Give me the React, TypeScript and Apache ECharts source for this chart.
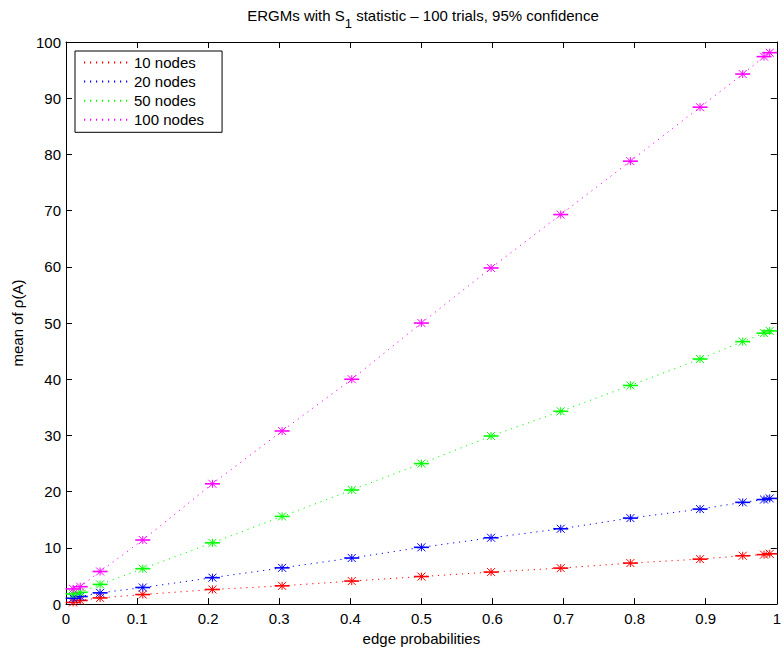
import { useEffect, useRef } from 'react';
import * as echarts from 'echarts';

const edgeProbabilities = [0.01, 0.02, 0.048, 0.108, 0.206, 0.304, 0.402, 0.5, 0.598, 0.696, 0.794, 0.892, 0.952, 0.982, 0.99];
const nodes10 = [0.3, 0.65, 1.1, 1.7, 2.6, 3.25, 4.1, 4.9, 5.7, 6.4, 7.3, 8.0, 8.6, 8.8, 8.95];
const nodes20 = [1.05, 1.35, 2.0, 2.95, 4.7, 6.45, 8.2, 10.1, 11.8, 13.4, 15.3, 16.9, 18.1, 18.6, 18.8];
const nodes50 = [1.8, 2.1, 3.5, 6.3, 10.9, 15.6, 20.3, 25.0, 29.9, 34.3, 38.9, 43.6, 46.7, 48.2, 48.6];
const nodes100 = [2.7, 3.1, 5.8, 11.4, 21.4, 30.8, 40.0, 50.0, 59.8, 69.3, 78.8, 88.4, 94.3, 97.4, 98.1];
const seriesNames = ['10 nodes', '20 nodes', '50 nodes', '100 nodes'];
const seriesValues = [nodes10, nodes20, nodes50, nodes100];
const seriesColors = ['#ff0000', '#0000ff', '#00ff00', '#ff00ff'];

const FONT = '"Liberation Sans", Arial, Helvetica, sans-serif';

export default function App() {
  const ref = useRef<HTMLDivElement>(null);
  useEffect(() => {
    if (!ref.current) return;
    const chart = echarts.init(ref.current, undefined, { renderer: 'svg' });

    const lineSeries = seriesNames.map((name, i) => ({
      name,
      type: 'line',
      data: edgeProbabilities.map((x, j) => [x, seriesValues[i][j]]),
      symbol: 'none',
      lineStyle: { color: seriesColors[i], width: 1, type: [1.2, 4.8] },
      itemStyle: { color: seriesColors[i] },
      z: 2,
    }));

    const markerSeries = seriesNames.map((name, i) => ({
      name: name + ' markers',
      type: 'custom',
      data: edgeProbabilities.map((x, j) => [x, seriesValues[i][j]]),
      z: 3,
      renderItem: (_params: any, api: any) => {
        const p = api.coord([api.value(0), api.value(1)]);
        const c = seriesColors[i];
        return {
          type: 'group',
          children: [
            { type: 'line', shape: { x1: p[0] - 7.5, y1: p[1], x2: p[0] + 7.5, y2: p[1] }, style: { stroke: c, lineWidth: 1.6 } },
            { type: 'line', shape: { x1: p[0] - 4, y1: p[1] - 4, x2: p[0] + 4, y2: p[1] + 4 }, style: { stroke: c, lineWidth: 1 } },
            { type: 'line', shape: { x1: p[0] - 4, y1: p[1] + 4, x2: p[0] + 4, y2: p[1] - 4 }, style: { stroke: c, lineWidth: 1 } },
            { type: 'line', shape: { x1: p[0], y1: p[1] - 4, x2: p[0], y2: p[1] + 4 }, style: { stroke: c, lineWidth: 1 } },
          ],
        };
      },
    }));

    const axisLine = { show: true, onZero: false, lineStyle: { color: '#000', width: 1 } };
    const tickIn = { show: true, inside: true, length: 6, lineStyle: { color: '#000' } };

    chart.setOption({
      animation: false,
      backgroundColor: '#fff',
      textStyle: { fontFamily: FONT },
      grid: { left: 66, right: 3, top: 42, bottom: 46, show: false },
      graphic: [
        {
          type: 'text',
          x: 423,
          y: 8,
          style: {
            text: '{a|ERGMs with S}{s|1}{a| statistic – 100 trials, 95% confidence}',
            align: 'center',
            verticalAlign: 'top',
            fill: '#000',
            rich: {
              a: { fontSize: 15, fontFamily: FONT, verticalAlign: 'top', fill: '#000' },
              s: { fontSize: 13, fontFamily: FONT, lineHeight: 22, verticalAlign: 'bottom', fill: '#000' },
            },
          },
        },
      ],
      legend: {
        data: seriesNames,
        orient: 'vertical',
        left: 75,
        top: 51,
        itemWidth: 45,
        itemHeight: 14,
        itemGap: 4.1,
        padding: [4, 18, 5, 8],
        borderColor: '#000',
        borderWidth: 1,
        backgroundColor: '#fff',
        itemStyle: { opacity: 0 },
        textStyle: { fontSize: 15, color: '#000', fontFamily: FONT },
        z: 10,
      },
      xAxis: [
        {
          type: 'value',
          min: 0,
          max: 1,
          interval: 0.1,
          name: 'edge probabilities',
          nameLocation: 'middle',
          nameGap: 24,
          nameTextStyle: { fontSize: 15, color: '#000', fontFamily: FONT },
          axisLine,
          axisTick: tickIn,
          splitLine: { show: false },
          axisLabel: { fontSize: 15, color: '#000', margin: 7, fontFamily: FONT },
        },
        {
          type: 'value',
          position: 'top',
          min: 0,
          max: 1,
          interval: 0.1,
          axisLine,
          axisTick: tickIn,
          splitLine: { show: false },
          axisLabel: { show: false },
        },
      ],
      yAxis: [
        {
          type: 'value',
          min: 0,
          max: 100,
          interval: 10,
          name: 'mean of ρ(A)',
          nameLocation: 'middle',
          nameGap: 37,
          nameTextStyle: { fontSize: 15, color: '#000', fontFamily: FONT },
          axisLine,
          axisTick: tickIn,
          splitLine: { show: false },
          axisLabel: { fontSize: 15, color: '#000', margin: 5, fontFamily: FONT },
        },
        {
          type: 'value',
          position: 'right',
          min: 0,
          max: 100,
          interval: 10,
          axisLine,
          axisTick: tickIn,
          splitLine: { show: false },
          axisLabel: { show: false },
        },
      ],
      series: [...lineSeries, ...markerSeries],
    });
    return () => chart.dispose();
  }, []);
  return <div ref={ref} style={{ position: 'fixed', left: 0, top: 0, width: 784, height: 651, background: '#fff' }} />;
}
